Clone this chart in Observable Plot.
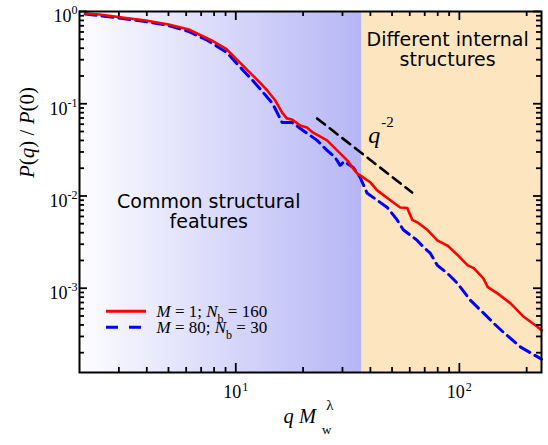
<!DOCTYPE html>
<html><head><meta charset="utf-8">
<script src="https://cdn.jsdelivr.net/npm/d3@7"></script>
<script src="https://cdn.jsdelivr.net/npm/@observablehq/plot@0.6"></script>
<style>html,body{margin:0;padding:0;background:#fff}#chart{width:548px;height:445px}</style>
</head><body><div id="chart"></div>
<script>
// ---- data ----
const redQ = [2.12,2.46,2.99,3.95,5.01,6.16,7.8,9.02,10.2,11.9,12.8,13.8,15.0,16.1,16.9,17.8,19.4,20.8,22.1,25.6,28.4,31.5,34.9,37.1,39.9,42.9,49.1,54.4,58.5,61.6,65.5,71.9,79.7,88.4,98,109,116,128,134,148,169,194,224,233];
const redP = [0.951,0.928,0.872,0.799,0.723,0.638,0.485,0.397,0.295,0.203,0.170,0.140,0.109,0.0805,0.0694,0.0676,0.0582,0.0554,0.0489,0.0401,0.0312,0.0243,0.0176,0.0159,0.0141,0.0115,0.0090,0.0075,0.0074,0.0055,0.0051,0.0043,0.0033,0.0029,0.0023,0.00177,0.00165,0.00128,0.00103,0.00088,0.00069,0.00049,0.00038,0.00035];
const blueQ = [2.12,2.99,3.95,5.01,6.16,7.49,9.11,10.1,11.9,14.6,16.1,17.8,20.0,23.1,25.6,27.8,29.3,30.5,33.5,36.0,38.7,42.9,47.6,52.7,56.1,64.8,69.0,74.1,79.7,88.4,98,112,128,142,158,188,224,233];
const blueP = [0.940,0.850,0.779,0.705,0.607,0.485,0.360,0.273,0.179,0.101,0.0628,0.0628,0.0514,0.0401,0.0312,0.0262,0.0215,0.0237,0.0204,0.0159,0.0107,0.0090,0.0075,0.0055,0.0043,0.0033,0.0028,0.0024,0.00177,0.00145,0.00113,0.00074,0.00054,0.00042,0.00033,0.00023,0.00018,0.00017];
const guideQ = [23.1, 61.5];
const guideP = [0.0693, 0.0109];
const guideLabel = "q^-2";
const boundaryQ = 36.7;
const xMajor = [10, 100];
const xMajorLabels = ["10^1", "10^2"];
const xMinor = [3,4,5,6,7,8,9,20,30,40,50,60,70,80,90,200];
const yMajor = [1, 0.1, 0.01, 0.001];
const yMajorLabels = ["10^0", "10^-1", "10^-2", "10^-3"];
const yMinor = [0.9,0.8,0.7,0.6,0.5,0.4,0.3,0.2,0.09,0.08,0.07,0.06,0.05,0.04,0.03,0.02,0.009,0.008,0.007,0.006,0.005,0.004,0.003,0.002,0.0009,0.0008,0.0007,0.0006,0.0005,0.0004,0.0003,0.0002];
const seriesNames = ["M = 1; N_b = 160", "M = 80; N_b = 30"];
const regionNames = ["Common structural\nfeatures", "Different internal\nstructures"];
const xTitle = "q M_w^λ";
const yTitle = "P(q) / P(0)";

// ---- tables ----
const red = redQ.map((q, i) => ({q, p: redP[i]}));
const blue = blueQ.map((q, i) => ({q, p: blueP[i]}));
const guide = guideQ.map((q, i) => ({q, p: guideP[i]}));

const W = 548, H = 445, mL = 79, mR = 7, mT = 11, mB = 73;
const fw = W - mL - mR, fh = H - mT - mB;
const xDom = [2, 233], yDom = [1.22e-4, 1];
// pixel length -> multiplicative factor on the log scales (tick lengths)
const fx = px => Math.pow(xDom[1] / xDom[0], px / fw);
const fy = px => Math.pow(yDom[1] / yDom[0], px / fh);
const serif = "'Liberation Serif','Times New Roman',serif";
const sans = "'DejaVu Sans',sans-serif";
const fmt = (ticks, labels) => d => labels[ticks.indexOf(d)];
const tickStyle = {stroke: "#000", strokeWidth: 1.8};
const xTicks = (ticks, len) => [
  Plot.ruleX(ticks, {x: d => d, y1: yDom[0], y2: yDom[0] * fy(len), ...tickStyle}),
  Plot.ruleX(ticks, {x: d => d, y1: yDom[1] / fy(len), y2: yDom[1], ...tickStyle})
];
const yTicks = (ticks, len) => [
  Plot.ruleY(ticks, {y: d => d, x1: xDom[0], x2: xDom[0] * fx(len), ...tickStyle}),
  Plot.ruleY(ticks, {y: d => d, x1: xDom[1] / fx(len), x2: xDom[1], ...tickStyle})
];

const plot = Plot.plot({
  width: W, height: H,
  marginLeft: mL, marginRight: mR, marginTop: mT, marginBottom: mB,
  style: {background: "white"},
  x: {type: "log", domain: xDom, axis: null},
  y: {type: "log", domain: yDom, axis: null},
  marks: [
    Plot.rect([0], {x1: xDom[0], x2: boundaryQ, y1: yDom[0], y2: yDom[1], fill: "url(#bgGrad)"}),
    Plot.rect([0], {x1: boundaryQ, x2: xDom[1], y1: yDom[0], y2: yDom[1], fill: "#fde6bf"}),
    Plot.line(guide, {x: "q", y: "p", stroke: "#000", strokeWidth: 2.6, strokeDasharray: "10,6"}),
    Plot.line(blue, {x: "q", y: "p", stroke: "#0000ff", strokeWidth: 3, strokeDasharray: "11,6"}),
    Plot.line(red, {x: "q", y: "p", stroke: "#ff0000", strokeWidth: 2.6}),
    // legend
    Plot.ruleY([5.63e-4], {x1: 2.64, x2: 3.99, stroke: "#ff0000", strokeWidth: 3}),
    Plot.ruleY([3.78e-4], {x1: 2.64, x2: 3.99, stroke: "#0000ff", strokeWidth: 3, strokeDasharray: "12,11"}),
    Plot.text(seriesNames, {x: 4.42, y: (d, i) => [5.63e-4, 3.78e-4][i], text: d => d, textAnchor: "start", fontSize: 17, fontFamily: serif, fill: "#000", ariaDescription: "legend-text"}),
    // region labels
    Plot.text([regionNames[0]], {x: 7.57, y: 0.01045, text: d => d, lineAnchor: "top", lineHeight: 1.03, fontSize: 19, fontFamily: sans, fill: "#000"}),
    Plot.text([regionNames[1]], {x: 88.6, y: 0.594, text: d => d, lineAnchor: "top", lineHeight: 1.03, fontSize: 19, fontFamily: sans, fill: "#000"}),
    // guide label
    Plot.text([guideLabel], {x: 39.1, y: 0.04505, text: d => d, textAnchor: "start", fontSize: 24, fontFamily: serif, fill: "#000", ariaDescription: "guide-label"}),
    // axis titles
    Plot.text([yTitle], {frameAnchor: "left", rotate: -90, dx: -52, dy: -14, text: d => d, fontSize: 21, fontFamily: serif, fill: "#000", ariaDescription: "y-title"}),
    Plot.text([xTitle], {frameAnchor: "bottom", dx: -27, dy: 50, textAnchor: "start", text: d => d, fontSize: 20.5, fontFamily: serif, fill: "#000", ariaDescription: "x-title"}),
    // tick labels
    Plot.axisX(xMajor, {anchor: "bottom", tickSize: 0, tickPadding: 13, fontSize: 18, fontFamily: serif, tickFormat: fmt(xMajor, xMajorLabels), label: null, fill: "#000"}),
    Plot.axisY(yMajor, {anchor: "left", tickSize: 0, tickPadding: 2, dy: 5.2, fontSize: 18, fontFamily: serif, tickFormat: fmt(yMajor, yMajorLabels), label: null, fill: "#000"}),
    Plot.frame({stroke: "#000", strokeWidth: 2}),
    // inward ticks on all four sides (drawn last)
    ...xTicks(xMajor, 9), ...xTicks(xMinor, 5),
    ...yTicks(yMajor, 8), ...yTicks(yMinor, 5)
  ]
});

// ---- gradient definition ----
const NS = "http://www.w3.org/2000/svg";
const svgEl = plot.tagName.toLowerCase() === "svg" ? plot : plot.querySelector("svg");
const defs = document.createElementNS(NS, "defs");
const lg = document.createElementNS(NS, "linearGradient");
lg.setAttribute("id", "bgGrad");
lg.setAttribute("x1", "0"); lg.setAttribute("y1", "0"); lg.setAttribute("x2", "1"); lg.setAttribute("y2", "0");
[["0", "#fdfdff"], ["1", "#b6b6f6"]].forEach(([o, c]) => {
  const s = document.createElementNS(NS, "stop");
  s.setAttribute("offset", o); s.setAttribute("stop-color", c); lg.appendChild(s);
});
defs.appendChild(lg);
svgEl.appendChild(defs);

// ---- rich text (italics, sub/superscripts) ----
function tokens(s) {
  const out = []; let i = 0;
  while (i < s.length) {
    const c = s[i];
    if (c === "_") { out.push({t: s[i + 1], kind: "sub"}); i += 2; }
    else if (c === "^") { let j = i + 1; while (j < s.length && s[j] !== " ") j++; out.push({t: s.slice(i + 1, j), kind: "sup"}); i = j; }
    else if (/[A-Za-z]/.test(c)) { out.push({t: c, kind: "it"}); i++; }
    else { let j = i; while (j < s.length && !/[A-Za-z_^]/.test(s[j])) j++; out.push({t: s.slice(i, j), kind: "n"}); i = j; }
  }
  return out;
}
function rich(el, o) {
  const s = el.textContent;
  if (!s) return;
  const toks = tokens(s);
  el.textContent = "";
  let cur = 0;
  toks.forEach((tkn, k) => {
    const ts = document.createElementNS(NS, "tspan");
    let target = 0;
    if (tkn.kind === "sub") { target = o.subDy; ts.setAttribute("font-size", o.subSize); if (o.subDx) ts.setAttribute("dx", o.subDx); }
    if (tkn.kind === "sup") {
      target = o.supDy; ts.setAttribute("font-size", o.supSize);
      if (k > 0 && toks[k - 1].kind === "sub") ts.setAttribute("dx", -o.stackDx);
      else if (o.supDx) ts.setAttribute("dx", o.supDx);
    }
    if (tkn.kind === "it" && o.italic !== false) ts.setAttribute("font-style", "italic");
    if (target !== cur) { ts.setAttribute("dy", target - cur); cur = target; }
    ts.textContent = tkn.t;
    el.appendChild(ts);
  });
}
const sel = (d) => svgEl.querySelectorAll(`g[aria-description="${d}"] text, text[aria-description="${d}"]`);
svgEl.querySelectorAll('g[aria-label="y-axis tick label"] text').forEach(t => rich(t, {supSize: 12, supDy: -8, italic: false}));
svgEl.querySelectorAll('g[aria-label="x-axis tick label"] text').forEach(t => rich(t, {supSize: 12, supDy: -7, supDx: 1, italic: false}));
sel("legend-text").forEach(t => rich(t, {subSize: 12, subDy: 6}));
sel("guide-label").forEach(t => rich(t, {supSize: 15, supDy: -16, supDx: 1}));
sel("y-title").forEach(t => rich(t, {}));
sel("x-title").forEach(t => rich(t, {subSize: 13, subDy: 11, subDx: 6, supSize: 15, supDy: -13, stackDx: 5}));

document.getElementById("chart").appendChild(plot);
</script>
</body></html>
